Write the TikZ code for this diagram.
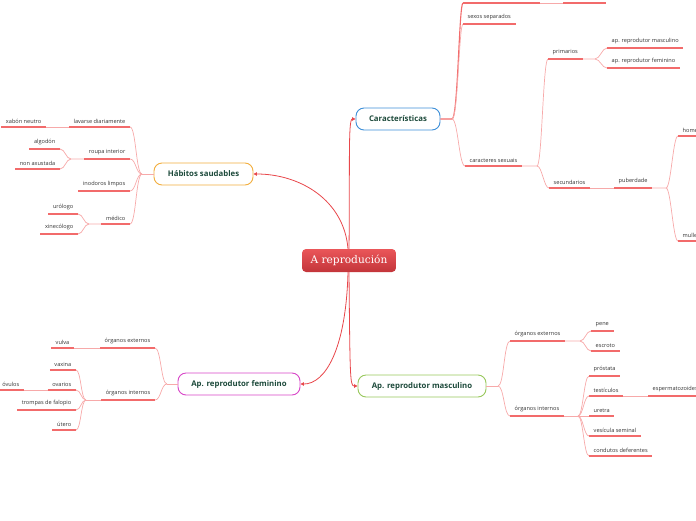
\documentclass[tikz,border=0pt]{standalone}
\usepackage{fontspec}
\setmainfont{Open Sans}
\newfontfamily\rootfont{DejaVu Serif}
\usetikzlibrary{arrows.meta}

\definecolor{txtgray}{HTML}{333333}
\definecolor{nodetext}{HTML}{1D4A3B}
\definecolor{ulred}{HTML}{F26B6B}
\definecolor{subpink}{HTML}{F7A9A9}
\definecolor{linkred}{HTML}{E8474B}
\definecolor{cblue}{HTML}{3D8FD8}
\definecolor{corange}{HTML}{F2AE3E}
\definecolor{cmag}{HTML}{D846C8}
\definecolor{cgreen}{HTML}{98C85C}
\definecolor{roottop}{HTML}{EA5659}
\definecolor{rootbot}{HTML}{C3353A}

\tikzset{
  topic/.style={anchor=south west, inner xsep=4.5pt, inner ysep=3.6pt, font=\fontsize{5.6}{6.5}\selectfont, text=txtgray},
  ltopic/.style={topic, anchor=south east},
  mainnode/.style={draw, rounded corners=8pt, line width=0.9pt, fill=white, minimum height=22pt, inner sep=0pt, font=\fontsize{7.8}{9}\selectfont\bfseries, text=nodetext},
  rootnode/.style={rounded corners=4pt, top color=roottop, bottom color=rootbot, minimum width=94pt, minimum height=23pt, inner sep=0pt, font=\rootfont\fontsize{10.6}{12}\selectfont, text=white},
  uline/.style={draw=ulred, line width=1.4pt},
  sublink/.style={draw=subpink, line width=0.7pt},
  toplink/.style={draw=ulred, line width=1.1pt},
  mainlink/.style={draw=linkred, line width=0.8pt, -{Triangle[length=3.5pt,width=3.5pt]}},
}

\begin{document}
\begin{tikzpicture}[x=1pt,y=1pt,yscale=-1,xscale=1]
\useasboundingbox (0,0) rectangle (696,520);
\clip (0,0) rectangle (696,520);

%Root node
\node[rootnode] (root) at (349,260.5) {A reprodución};

%Main nodes
\node[mainnode, draw=cblue, minimum width=84pt] (car) at (398,119) {Características};
\node[mainnode, draw=corange, minimum width=99pt] (hab) at (203.5,174) {Hábitos saudables};
\node[mainnode, draw=cmag, minimum width=122pt] (fem) at (239,384) {Ap. reprodutor feminino};
\node[mainnode, draw=cgreen, minimum width=128pt] (mas) at (422,386) {Ap. reprodutor masculino};

%Root links
\draw[mainlink] (root.north) .. controls (350,170) and (348,119) .. (car.west);
\draw[mainlink] ([xshift=-1pt]root.north) .. controls (344,200) and (300,174) .. (hab.east);
\draw[mainlink] ([xshift=-1pt]root.south) .. controls (346,350) and (325,384) .. (fem.east);
\draw[mainlink] (root.south) .. controls (350,378) and (350,386) .. (mas.west);

% Text Node -- Caracteristicas
\node[topic, minimum width=77pt] (top1) at (463,3) {};
\node[topic, minimum width=43pt] (top2) at (563,3) {};
\node[topic] (sexos) at (463,24) {sexos separados};
\node[topic] (carsex) at (465,166) {caracteres sexuais};
\node[topic] (prim) at (548,59) {primarios};
\node[topic] (apm) at (607,48) {ap. reprodutor masculino};
\node[topic] (apf) at (607,68) {ap. reprodutor feminino};
\node[topic] (secu) at (549,188) {secundarios};
\node[topic] (pub) at (614,188) {puberdade};
\node[topic] (home) at (678,136) {home};
\node[topic] (mull) at (678,241) {muller};

\coordinate (bcar) at (452,119);
\draw[toplink] (car.east) -- (bcar) .. controls +(6,0) and +(-4,0) .. (top1.south west);
\draw[sublink] (bcar) .. controls +(6,0) and +(-4,0) .. (sexos.south west);
\draw[sublink] (bcar) .. controls +(6,0) and +(-6,0) .. (carsex.south west);
\draw[sublink] (top1.south east) -- (top2.south west);
\coordinate (bsex) at (537,166);
\draw[sublink] (carsex.south east) -- (bsex) .. controls +(5,0) and +(-5,0) .. (prim.south west);
\draw[sublink] (bsex) .. controls +(5,0) and +(-5,0) .. (secu.south west);
\coordinate (bprim) at (595,59);
\draw[sublink] (prim.south east) -- (bprim) .. controls +(5,0) and +(-5,0) .. (apm.south west);
\draw[sublink] (bprim) .. controls +(5,0) and +(-5,0) .. (apf.south west);
\draw[sublink] (secu.south east) -- (pub.south west);
\coordinate (bpub) at (666,188);
\draw[sublink] (pub.south east) -- (bpub) .. controls +(5,0) and +(-5,0) .. (home.south west);
\draw[sublink] (bpub) .. controls +(5,0) and +(-5,0) .. (mull.south west);

% Text Node -- Habitos saudables
\node[ltopic] (lav) at (130,127) {lavarse diariamente};
\node[ltopic] (xab) at (46,127) {xabón neutro};
\node[ltopic] (roupa) at (130,159) {roupa interior};
\node[ltopic] (algo) at (60,149) {algodón};
\node[ltopic] (nonax) at (60,169) {non axustada};
\node[ltopic] (inod) at (130,191) {inodoros limpos};
\node[ltopic] (medi) at (130,224) {médico};
\node[ltopic] (urol) at (78,214) {urólogo};
\node[ltopic] (xine) at (78,234) {xinecólogo};

\coordinate (bhab) at (142,174);
\draw[sublink] (hab.west) -- (bhab);
\foreach \n in {lav,roupa,inod,medi}
  \draw[sublink] (bhab) .. controls +(-6,0) and +(6,0) .. (\n.south east);
\draw[sublink] (xab.south west) -- (lav.south west);
\coordinate (broupa) at (71,159);
\draw[sublink] (roupa.south west) -- (broupa) .. controls +(-5,0) and +(5,0) .. (algo.south east);
\draw[sublink] (broupa) .. controls +(-5,0) and +(5,0) .. (nonax.south east);
\coordinate (bmedi) at (89,224);
\draw[sublink] (medi.south west) -- (bmedi) .. controls +(-5,0) and +(5,0) .. (urol.south east);
\draw[sublink] (bmedi) .. controls +(-5,0) and +(5,0) .. (xine.south east);

% Text Node -- Ap. reprodutor feminino
\node[ltopic] (fext) at (155,348) {órganos externos};
\node[ltopic] (vulva) at (74,348) {vulva};
\node[ltopic] (fint) at (155,400) {órganos internos};
\node[ltopic] (vaxi) at (76,370) {vaxina};
\node[ltopic] (ovar) at (76,390) {ovarios};
\node[ltopic] (ovul) at (24,390) {óvulos};
\node[ltopic] (tromp) at (76,410) {trompas de falopio};
\node[ltopic] (uter) at (76,430) {útero};

\coordinate (bfem) at (167,384);
\draw[sublink] (fem.west) -- (bfem);
\foreach \n in {fext,fint}
  \draw[sublink] (bfem) .. controls +(-6,0) and +(6,0) .. (\n.south east);
\draw[sublink] (vulva.south east) -- (fext.south west);
\coordinate (bfint) at (86,400);
\draw[sublink] (fint.south west) -- (bfint);
\foreach \n in {vaxi,ovar,tromp,uter}
  \draw[sublink] (bfint) .. controls +(-5,0) and +(5,0) .. (\n.south east);
\draw[sublink] (ovul.south east) -- (ovar.south west);

% Text Node -- Ap. reprodutor masculino
\node[topic] (mext) at (510,341) {órganos externos};
\node[topic] (pene) at (591,331) {pene};
\node[topic] (escr) at (591,351) {escroto};
\node[topic] (mint) at (510,416) {órganos internos};
\node[topic] (pros) at (589,376) {próstata};
\node[topic] (test) at (589,396) {testículos};
\node[topic] (esper) at (648,396) {espermatozoides};
\node[topic] (uret) at (589,416) {uretra};
\node[topic] (vesi) at (589,436) {vesícula seminal};
\node[topic] (cond) at (589,456) {condutos deferentes};

\coordinate (bmas) at (498,386);
\draw[sublink] (mas.east) -- (bmas);
\foreach \n in {mext,mint}
  \draw[sublink] (bmas) .. controls +(6,0) and +(-6,0) .. (\n.south west);
\coordinate (bmext) at (580,341);
\draw[sublink] (mext.south east) -- (bmext) .. controls +(5,0) and +(-5,0) .. (pene.south west);
\draw[sublink] (bmext) .. controls +(5,0) and +(-5,0) .. (escr.south west);
\coordinate (bmint) at (578,416);
\draw[sublink] (mint.south east) -- (bmint);
\foreach \n in {pros,test,uret,vesi,cond}
  \draw[sublink] (bmint) .. controls +(5,0) and +(-5,0) .. (\n.south west);
\draw[sublink] (test.south east) -- (esper.south west);

%Underlines
\foreach \n in {top1,top2,sexos,carsex,prim,apm,apf,secu,pub,home,mull,
  lav,xab,roupa,algo,nonax,inod,medi,urol,xine,
  fext,vulva,fint,vaxi,ovar,ovul,tromp,uter,
  mext,pene,escr,mint,pros,test,esper,uret,vesi,cond}
  \draw[uline] (\n.south west) -- (\n.south east);

\end{tikzpicture}
\end{document}
